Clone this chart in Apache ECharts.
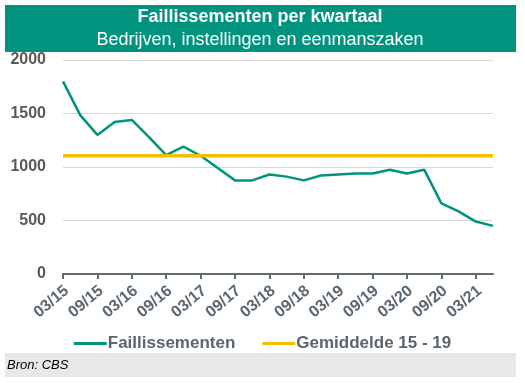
<!DOCTYPE html>
<html>
<head>
<meta charset="utf-8">
<script src="https://cdn.jsdelivr.net/npm/echarts@6/dist/echarts.min.js"></script>
<style>html,body{margin:0;padding:0;background:#fff;}#c{width:525px;height:383px;}</style>
</head>
<body>
<div id="c"></div>
<script>
const categories = ['03/15','06/15','09/15','12/15','03/16','06/16','09/16','12/16','03/17','06/17','09/17','12/17','03/18','06/18','09/18','12/18','03/19','06/19','09/19','12/19','03/20','06/20','09/20','12/20','03/21','06/21'];
const faillissementen = [1800,1485,1300,1420,1440,1280,1110,1190,1105,990,875,875,930,910,875,920,930,940,940,975,940,975,660,585,490,450];
const gemiddeldeValue = 1105;
const gemiddelde = categories.map(() => gemiddeldeValue);
const yTicks = [0,500,1000,1500,2000];

const FF = 'Arial, "Liberation Sans", sans-serif';
const chart = echarts.init(document.getElementById('c'), null, {renderer:'canvas'});
chart.setOption({
  animation:false,
  backgroundColor:'#fff',
  graphic:[
    {type:'rect', shape:{x:5,y:5,width:511,height:45}, style:{fill:'#00947F'}},
    {type:'rect', shape:{x:5,y:50,width:511,height:2}, style:{fill:'#00947F'}},
    {type:'text', x:260, y:17, style:{text:'Faillissementen per kwartaal', fill:'#fff', font:'bold 18px ' + FF, align:'center', verticalAlign:'middle'}},
    {type:'text', x:260, y:40, style:{text:'Bedrijven, instellingen en eenmanszaken', fill:'#fff', font:'18px ' + FF, align:'center', verticalAlign:'middle'}},
    {type:'rect', shape:{x:5,y:353,width:511,height:24}, style:{fill:'#E8E8E8'}},
    {type:'text', x:7, y:365, style:{text:'Bron: CBS', fill:'#000', font:'italic 13px ' + FF, align:'left', verticalAlign:'middle'}}
  ],
  legend:{
    data:['Faillissementen','Gemiddelde 15 - 19'],
    top:330, left:'center',
    itemWidth:33, itemHeight:3, itemGap:27,
    icon:'rect',
    textStyle:{color:'#5A6670', fontSize:17, fontWeight:'bold', fontFamily:FF, padding:[0,0,0,-4]}
  },
  grid:{left:63, right:32, top:60, bottom:109, containLabel:false},
  xAxis:{
    type:'category', data:categories, boundaryGap:false,
    axisLine:{lineStyle:{color:'#5F6B73', width:2}},
    axisTick:{interval:1, length:5, lineStyle:{color:'#5F6B73', width:2}},
    axisLabel:{interval:1, rotate:40, margin:18, padding:[0,-5,0,0], color:'#5A6670', fontSize:16, fontWeight:'bold', fontFamily:FF},
    splitLine:{show:false}
  },
  yAxis:{
    type:'value', min:0, max:2000, interval:500,
    axisLine:{show:false}, axisTick:{show:false},
    axisLabel:{color:'#595959', fontSize:16, fontWeight:'bold', margin:17, fontFamily:FF, formatter:v => String(v)},
    splitLine:{lineStyle:{color:'#D9D9D9', width:1}}
  },
  series:[
    {name:'Faillissementen', type:'line', data:faillissementen, symbol:'none', lineStyle:{color:'#00947F', width:2.5}, itemStyle:{color:'#00947F'}, z:2},
    {name:'Gemiddelde 15 - 19', type:'line', data:gemiddelde, symbol:'none', lineStyle:{color:'#F5BE00', width:3.5}, itemStyle:{color:'#F5BE00'}, z:3}
  ]
});
</script>
</body>
</html>
